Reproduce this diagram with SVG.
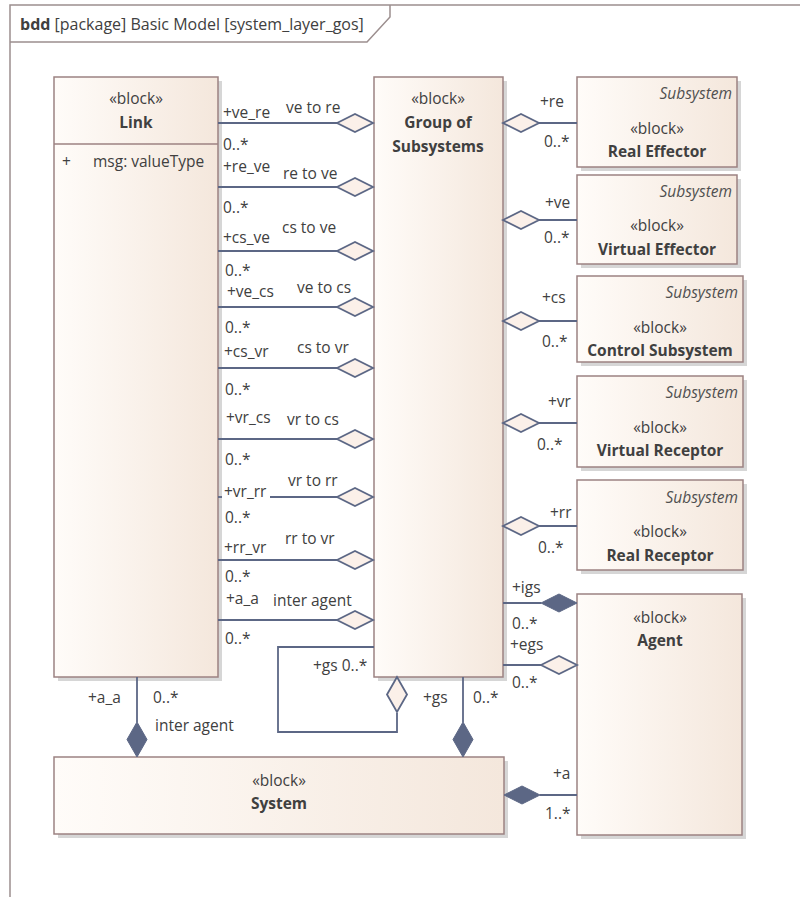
<svg xmlns="http://www.w3.org/2000/svg" xmlns:xlink="http://www.w3.org/1999/xlink" width="800" height="897" viewBox="0 0 800 897">
<style>
text{font-family:"Open Sans","Noto Sans","Liberation Sans",sans-serif;fill:#404040;font-size:15.5px}
.b{font-weight:bold}
.i{font-style:italic;fill:#505050}
.m{text-anchor:middle}
.e{text-anchor:end}
.blk{fill:url(#g);stroke:#9c8282;stroke-width:1.5}
.sh{fill:#d6d6d6}
.c{fill:none;stroke:#5c6785;stroke-width:1.8}
.dh{fill:#fbf0e9;stroke:#5c6785;stroke-width:1.8}
.df{fill:#5c6785;stroke:#5c6785;stroke-width:1}
.fr{fill:none;stroke:#9c8f8f;stroke-width:1.5}
</style>
<defs>
<linearGradient id="g" x1="0" y1="0" x2="1" y2="0">
<stop offset="0" stop-color="#fffcf9"/>
<stop offset="1" stop-color="#f4e7dc"/>
</linearGradient>
<path id="dH" d="M0,0 L18,-9 L36,0 L18,9 Z"/>
<path id="dV" d="M0,0 L-10,17.5 L0,35 L10,17.5 Z"/>
</defs>
<rect width="800" height="897" fill="#ffffff"/>
<g id="frame">
<path class="fr" d="M10,897 V5 H800"/>
<path class="fr" d="M10,42 H367 L390,17 V5"/>
<text x="20" y="30" style="font-size:16px"><tspan class="b">bdd</tspan> [package] Basic Model [system_layer_gos]</text>
</g>
<g id="link">
<rect class="sh" x="58" y="81" width="164" height="600"/>
<rect class="blk" x="54" y="77" width="164" height="600"/>
<line x1="54" y1="144" x2="218" y2="144" stroke="#9c8282" stroke-width="1.5"/>
<text class="m" x="136" y="104">«block»</text>
<text class="m b" x="136" y="128">Link</text>
<text x="62" y="167">+</text>
<text x="93" y="167">msg: valueType</text>
</g>
<g id="group">
<rect class="sh" x="378" y="81" width="129" height="600"/>
<rect class="blk" x="374" y="77" width="129" height="600"/>
<text class="m" x="438" y="104">«block»</text>
<text class="m b" x="438" y="128">Group of</text>
<text class="m b" x="438" y="152">Subsystems</text>
</g>
<g id="realEffector">
<rect class="sh" x="581" y="81" width="160" height="90"/>
<rect class="blk" x="577" y="77" width="160" height="90"/>
<text class="i e" x="732" y="99">Subsystem</text>
<text class="m" x="657" y="134">«block»</text>
<text class="m b" x="657" y="157">Real Effector</text>
</g>
<g id="virtualEffector">
<rect class="sh" x="581" y="179" width="160" height="89"/>
<rect class="blk" x="577" y="175" width="160" height="89"/>
<text class="i e" x="732" y="197">Subsystem</text>
<text class="m" x="657" y="231">«block»</text>
<text class="m b" x="657" y="255">Virtual Effector</text>
</g>
<g id="controlSubsystem">
<rect class="sh" x="581" y="280" width="166" height="86"/>
<rect class="blk" x="577" y="276" width="166" height="86"/>
<text class="i e" x="738" y="298">Subsystem</text>
<text class="m" x="660" y="333">«block»</text>
<text class="m b" x="660" y="356">Control Subsystem</text>
</g>
<g id="virtualReceptor">
<rect class="sh" x="581" y="380" width="166" height="91"/>
<rect class="blk" x="577" y="376" width="166" height="91"/>
<text class="i e" x="738" y="398">Subsystem</text>
<text class="m" x="660" y="433">«block»</text>
<text class="m b" x="660" y="456">Virtual Receptor</text>
</g>
<g id="realReceptor">
<rect class="sh" x="581" y="484" width="166" height="90"/>
<rect class="blk" x="577" y="480" width="166" height="90"/>
<text class="i e" x="738" y="503">Subsystem</text>
<text class="m" x="660" y="537">«block»</text>
<text class="m b" x="660" y="561">Real Receptor</text>
</g>
<g id="agent">
<rect class="sh" x="581" y="598" width="165" height="241"/>
<rect class="blk" x="577" y="594" width="165" height="241"/>
<text class="m" x="660" y="623">«block»</text>
<text class="m b" x="660" y="646">Agent</text>
</g>
<g id="system">
<rect class="sh" x="58" y="761" width="450" height="77"/>
<rect class="blk" x="54" y="757" width="450" height="77"/>
<text class="m" x="279" y="786">«block»</text>
<text class="m b" x="279" y="809">System</text>
</g>
<g id="connectors">
<line class="c" x1="218" y1="123" x2="337" y2="123"/><use href="#dH" class="dh" x="337" y="123"/>
<line class="c" x1="218" y1="187" x2="337" y2="187"/><use href="#dH" class="dh" x="337" y="187"/>
<line class="c" x1="218" y1="251" x2="337" y2="251"/><use href="#dH" class="dh" x="337" y="251"/>
<line class="c" x1="218" y1="307" x2="337" y2="307"/><use href="#dH" class="dh" x="337" y="307"/>
<line class="c" x1="218" y1="368" x2="337" y2="368"/><use href="#dH" class="dh" x="337" y="368"/>
<line class="c" x1="218" y1="439" x2="337" y2="439"/><use href="#dH" class="dh" x="337" y="439"/>
<line class="c" x1="218" y1="497" x2="222" y2="497"/><line class="c" x1="270" y1="497" x2="337" y2="497"/><use href="#dH" class="dh" x="337" y="497"/>
<line class="c" x1="218" y1="560" x2="337" y2="560"/><use href="#dH" class="dh" x="337" y="560"/>
<line class="c" x1="218" y1="620" x2="337" y2="620"/><use href="#dH" class="dh" x="337" y="620"/>
<line class="c" x1="539" y1="123" x2="577" y2="123"/><use href="#dH" class="dh" x="503" y="123"/>
<line class="c" x1="539" y1="220" x2="577" y2="220"/><use href="#dH" class="dh" x="503" y="220"/>
<line class="c" x1="539" y1="321" x2="577" y2="321"/><use href="#dH" class="dh" x="503" y="321"/>
<line class="c" x1="539" y1="423" x2="577" y2="423"/><use href="#dH" class="dh" x="503" y="423"/>
<line class="c" x1="539" y1="526" x2="577" y2="526"/><use href="#dH" class="dh" x="503" y="526"/>
<line class="c" x1="503" y1="603" x2="541" y2="603"/><use href="#dH" class="df" x="541" y="603"/>
<line class="c" x1="503" y1="665" x2="541" y2="665"/><use href="#dH" class="dh" x="541" y="665"/>
<line class="c" x1="540" y1="795" x2="577" y2="795"/><use href="#dH" class="df" x="504" y="795"/>
<line class="c" x1="137" y1="677" x2="137" y2="722"/><use href="#dV" class="df" x="137" y="722"/>
<line class="c" x1="463" y1="677" x2="463" y2="722"/><use href="#dV" class="df" x="463" y="722"/>
<path class="c" d="M374,647 H278 V732 H397 V713"/><use href="#dV" class="dh" x="397" y="677"/>
</g>
<g id="labels">
<text x="223" y="118">+ve_re</text><text x="286" y="113">ve to re</text><text x="223" y="150">0..*</text>
<text x="223" y="172">+re_ve</text><text x="283" y="179">re to ve</text><text x="223" y="213">0..*</text>
<text x="223" y="243">+cs_ve</text><text x="282" y="233">cs to ve</text><text x="225" y="276">0..*</text>
<text x="227" y="297">+ve_cs</text><text x="297" y="293">ve to cs</text><text x="225" y="333">0..*</text>
<text x="224" y="357">+cs_vr</text><text x="297" y="353">cs to vr</text><text x="225" y="395">0..*</text>
<text x="226" y="423">+vr_cs</text><text x="287" y="425">vr to cs</text><text x="225" y="465">0..*</text>
<text x="224" y="497">+vr_rr</text><text x="288" y="486">vr to rr</text><text x="225" y="523">0..*</text>
<text x="224" y="553">+rr_vr</text><text x="285" y="544">rr to vr</text><text x="225" y="582">0..*</text>
<text x="226" y="604">+a_a</text><text x="273" y="606">inter agent</text><text x="225" y="644">0..*</text>
<text x="540" y="107">+re</text><text x="544" y="147">0..*</text>
<text x="545" y="208">+ve</text><text x="544" y="243">0..*</text>
<text x="542" y="303">+cs</text><text x="542" y="347">0..*</text>
<text x="548" y="407">+vr</text><text x="537" y="450">0..*</text>
<text x="550" y="518">+rr</text><text x="538" y="553">0..*</text>
<text x="512" y="593">+igs</text><text x="512" y="629">0..*</text>
<text x="510" y="650">+egs</text><text x="512" y="688">0..*</text>
<text x="553" y="779">+a</text><text x="545" y="819">1..*</text>
<text x="88" y="703">+a_a</text><text x="153" y="703">0..*</text><text x="155" y="731">inter agent</text>
<text x="423" y="703">+gs</text><text x="473" y="703">0..*</text>
<text x="313" y="671">+gs 0..*</text>
</g>
</svg>
